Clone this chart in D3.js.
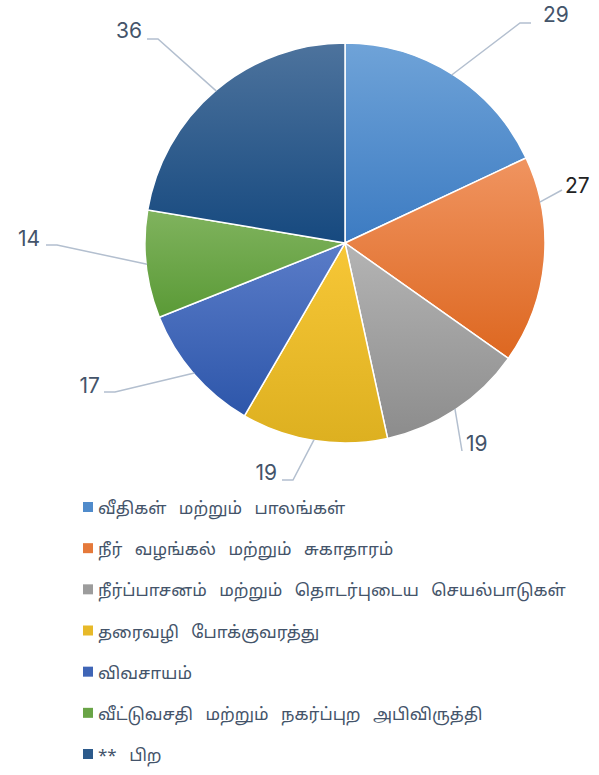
<!DOCTYPE html>
<html>
<head>
<meta charset="utf-8">
<script src="https://cdn.jsdelivr.net/npm/d3@7"></script>
<style>
  body { margin: 0; background: #fff; }
  svg { display: block; }
</style>
</head>
<body>
<div id="chart"></div>
<script>
// data
const categories = [
  "வீதிகள் மற்றும் பாலங்கள்",
  "நீர் வழங்கல் மற்றும் சுகாதாரம்",
  "நீர்ப்பாசனம் மற்றும் தொடர்புடைய செயல்பாடுகள்",
  "தரைவழி போக்குவரத்து",
  "விவசாயம்",
  "வீட்டுவசதி மற்றும் நகர்ப்புற அபிவிருத்தி",
  "** பிற"
];
const values = [29, 27, 19, 19, 17, 14, 36];
const colorsTop = ["#6fa3d8", "#f09460", "#b4b4b4", "#f7c737", "#5a7cc8", "#80b35e", "#4d739d"];
const colorsBottom = ["#3c7bc2", "#dd6720", "#8c8c8c", "#ddb020", "#2d56aa", "#5a9a36", "#16497f"];

const width = 599, height = 775;
const cx = 345, cy = 243, radius = 200;

const svg = d3.select("#chart")
  .append("svg")
    .attr("width", width)
    .attr("height", height);

const defs = svg.append("defs");

const pie = d3.pie().sort(null).value(d => d);
const arcs = pie(values);
const arc = d3.arc().innerRadius(0).outerRadius(radius);

// vertical extent of a slice, for its gradient
function yRange(a) {
  const ys = [0];
  for (let t = a.startAngle; t <= a.endAngle; t += 0.01) ys.push(-radius * Math.cos(t));
  ys.push(-radius * Math.cos(a.endAngle));
  return d3.extent(ys);
}

arcs.forEach((a, i) => {
  const [y0, y1] = yRange(a);
  const gr = defs.append("linearGradient")
    .attr("id", "grad" + i)
    .attr("gradientUnits", "userSpaceOnUse")
    .attr("x1", 0).attr("y1", y0)
    .attr("x2", 0).attr("y2", y1);
  gr.append("stop").attr("offset", "0%").attr("stop-color", colorsTop[i]);
  gr.append("stop").attr("offset", "100%").attr("stop-color", colorsBottom[i]);
});

const g = svg.append("g").attr("transform", `translate(${cx}, ${cy})`);

g.selectAll("path")
  .data(arcs)
  .join("path")
    .attr("d", arc)
    .attr("fill", (d, i) => `url(#grad${i})`)
    .attr("stroke", "#fff")
    .attr("stroke-width", 1.5);

// data labels: elbow point, text x, text anchor, baseline offset, where on the slice the line ends
const labelPos = [
  {lx: 175, ly: -220, tx: 198, anchor: "start", dy: -1, t: 0.5, elbow: true},
  {lx: 217, ly: -53, tx: 220, anchor: "start", dy: 3, t: 0.22, elbow: false},
  {lx: 117, ly: 208, tx: 121, anchor: "start", dy: 0, t: 0.5, elbow: false},
  {lx: -52, ly: 237, tx: -68, anchor: "end", dy: 0, t: 0.5, elbow: true},
  {lx: -230, ly: 149, tx: -245, anchor: "end", dy: 1, t: 0.5, elbow: true},
  {lx: -288, ly: 2, tx: -305, anchor: "end", dy: 1, t: 0.5, elbow: true},
  {lx: -187, ly: -204, tx: -203, anchor: "end", dy: -1, t: 0.5, elbow: true}
];
const labelColor = ["#44546a", "#222", "#44546a", "#44546a", "#44546a", "#44546a", "#44546a"];

arcs.forEach((a, i) => {
  const p = labelPos[i];
  const ang = a.startAngle + (a.endAngle - a.startAngle) * p.t;
  const r = radius - 1;
  const pts = [[r * Math.sin(ang), -r * Math.cos(ang)], [p.lx, p.ly]];
  if (p.elbow) pts.push([p.anchor === "start" ? p.lx + 11 : p.lx - 11, p.ly]);
  g.append("path")
    .attr("d", d3.line()(pts))
    .attr("fill", "none")
    .attr("stroke", "#b3bfcf")
    .attr("stroke-width", 1.5);
  g.append("text")
    .attr("x", p.tx)
    .attr("y", p.ly + p.dy)
    .attr("text-anchor", p.anchor)
    .attr("font-family", "Inter, 'Noto Sans', sans-serif")
    .attr("font-size", 21)
    .attr("fill", labelColor[i])
    .text(a.data);
});

// legend
const legend = svg.append("g").attr("transform", "translate(83, 508)");
const ly = d3.scalePoint().domain(d3.range(categories.length)).range([0, 247]);

categories.forEach((c, i) => {
  const row = legend.append("g").attr("transform", `translate(0, ${ly(i)})`);
  row.append("rect")
    .attr("x", 0).attr("y", -6)
    .attr("width", 10).attr("height", 10)
    .attr("fill", d3.interpolateRgb(colorsTop[i], colorsBottom[i])(0.6));
  row.append("text")
    .attr("x", 15)
    .attr("y", 6)
    .attr("font-family", "'Noto Sans', 'Noto Sans Tamil', sans-serif")
    .attr("font-size", 17)
    .attr("word-spacing", 8)
    .attr("fill", "#44546a")
    .text(c);
});
</script>
</body>
</html>
